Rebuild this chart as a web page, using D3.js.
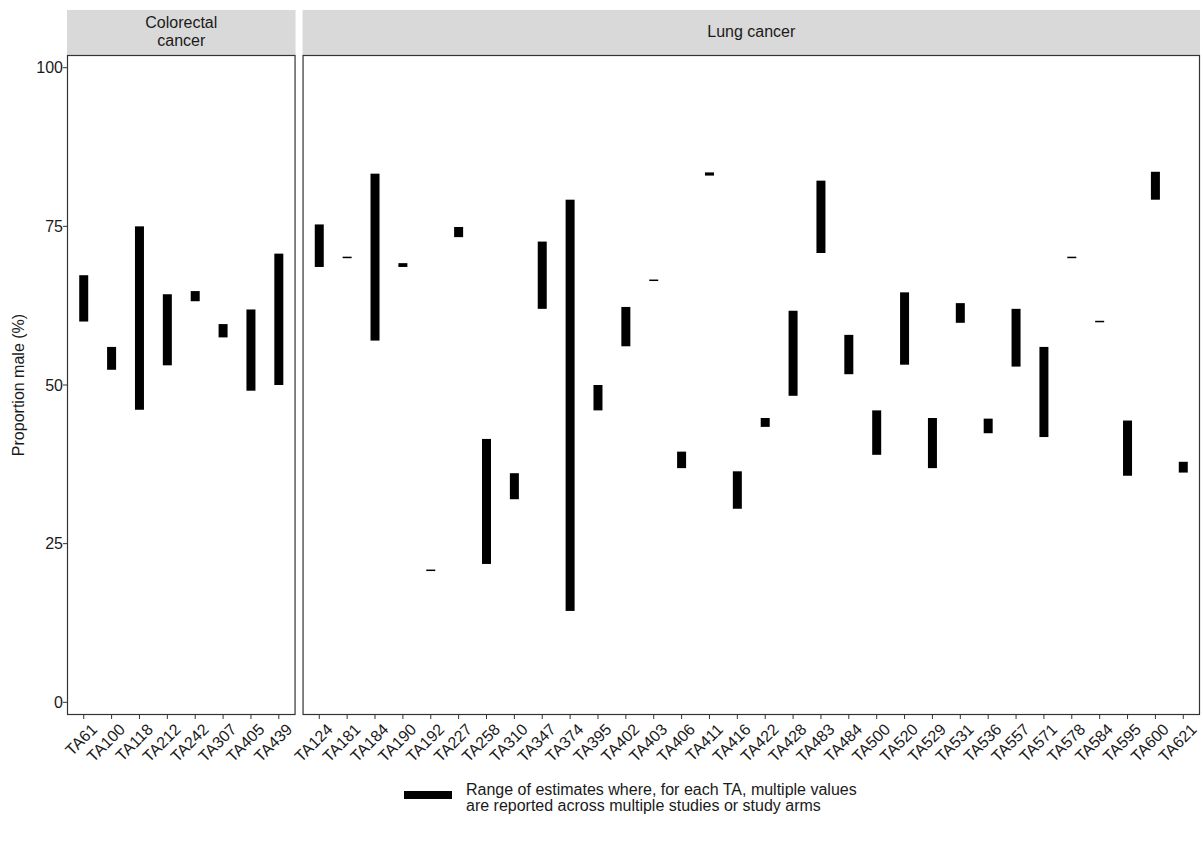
<!DOCTYPE html>
<html>
<head>
<meta charset="utf-8">
<script src="https://cdn.jsdelivr.net/npm/d3@7"></script>
<style>
  body { margin: 0; background: #fff; }
  text { font-family: "Liberation Sans", Arial, sans-serif; }
</style>
</head>
<body>
<script>
// colorectal panel
const crcTA = ["TA61", "TA100", "TA118", "TA212", "TA242", "TA307", "TA405", "TA439"];
const crcLow = [60.0, 52.4, 46.1, 53.1, 63.2, 57.5, 49.1, 50.0];
const crcHigh = [67.3, 56.0, 75.0, 64.3, 64.8, 59.6, 61.9, 70.7];

// lung panel
const lungTA = ["TA124", "TA181", "TA184", "TA190", "TA192", "TA227", "TA258", "TA310",
    "TA347", "TA374", "TA395", "TA402", "TA403", "TA406", "TA411", "TA416", "TA422",
    "TA428", "TA483", "TA484", "TA500", "TA520", "TA529", "TA531", "TA536", "TA557",
    "TA571", "TA578", "TA584", "TA595", "TA600", "TA621"];
const lungLow = [68.6, 70.1, 57.0, 68.6, 20.8, 73.3, 21.8, 32.0,
    62.0, 14.4, 46.0, 56.1, 66.5, 36.9, 83.0, 30.5, 43.4,
    48.3, 70.8, 51.7, 39.0, 53.2, 36.9, 59.8, 42.4, 52.9,
    41.8, 70.1, 60.0, 35.7, 79.2, 36.2];
const lungHigh = [75.3, 70.1, 83.3, 69.2, 20.8, 74.9, 41.5, 36.1,
    72.6, 79.2, 50.0, 62.3, 66.5, 39.5, 83.5, 36.4, 44.8,
    61.7, 82.2, 57.9, 46.0, 64.6, 44.8, 62.9, 44.7, 62.0,
    56.0, 70.1, 60.0, 44.4, 83.6, 37.9];

const yTicks = [0, 25, 50, 75, 100];

const width = 1203, height = 854;
const panelTop = 55, panelBottom = 715;
const stripTop = 10;
const leftX = 67, rightX = 1200, gap = 7;
const barW = 9;
const fs = "16px";

const svg = d3.select("body").append("svg")
    .attr("width", width)
    .attr("height", height);

const y = d3.scaleLinear().domain([-2, 102]).range([panelBottom, panelTop]);

const panels = [
    { name: ["Colorectal", "cancer"], cats: crcTA, lo: crcLow, hi: crcHigh },
    { name: ["Lung cancer"], cats: lungTA, lo: lungLow, hi: lungHigh }
];

// free x space, like facet space="free_x"
const units = panels.map(p => p.cats.length - 1 + 1.2);
const avail = rightX - leftX - gap;
let cursor = leftX;
panels.forEach((p, i) => {
    p.x0 = cursor;
    p.x1 = cursor + avail * units[i] / d3.sum(units);
    cursor = p.x1 + gap;
});

panels.forEach(p => {
    const x = d3.scalePoint().domain(p.cats).range([p.x0, p.x1]).padding(0.6);
    const g = svg.append("g");

    // strip
    g.append("rect")
        .attr("x", p.x0).attr("y", stripTop)
        .attr("width", p.x1 - p.x0).attr("height", panelTop - stripTop)
        .attr("fill", "#d9d9d9");
    const midY = (stripTop + panelTop) / 2 - 1;
    g.selectAll(".strip")
        .data(p.name)
        .enter()
        .append("text")
        .attr("x", (p.x0 + p.x1) / 2)
        .attr("y", (d, i) => midY + (i - (p.name.length - 1) / 2) * 18)
        .attr("dy", "0.35em")
        .attr("text-anchor", "middle")
        .style("font-size", fs)
        .style("fill", "#1a1a1a")
        .text(d => d);

    // ranges
    const rows = p.cats.map((c, i) => ({ c: c, lo: p.lo[i], hi: p.hi[i] }));
    g.selectAll(".bar")
        .data(rows)
        .enter()
        .append("rect")
        .attr("x", d => x(d.c) - barW / 2)
        .attr("width", barW)
        .attr("y", d => y(d.hi) - (d.hi === d.lo ? 0.75 : 0))
        .attr("height", d => Math.max(y(d.lo) - y(d.hi), 1.5))
        .attr("fill", "#000");

    // border
    g.append("rect")
        .attr("x", p.x0 + 0.5).attr("y", panelTop + 0.5)
        .attr("width", p.x1 - p.x0 - 1).attr("height", panelBottom - panelTop - 1)
        .attr("fill", "none")
        .attr("stroke", "#333")
        .attr("stroke-width", 1.2);

    // x axis
    const xa = g.append("g").attr("transform", `translate(0,${panelBottom})`);
    xa.selectAll("line")
        .data(p.cats)
        .enter()
        .append("line")
        .attr("x1", d => x(d)).attr("x2", d => x(d))
        .attr("y1", 0).attr("y2", 4)
        .attr("stroke", "#333");
    xa.selectAll("text")
        .data(p.cats)
        .enter()
        .append("text")
        .attr("transform", d => `translate(${x(d) + 6},${7}) rotate(-45)`)
        .attr("text-anchor", "end")
        .attr("dy", "0.75em")
        .style("font-size", fs)
        .style("fill", "#1a1a1a")
        .text(d => d);
});

// y axis
const ya = svg.append("g");
ya.selectAll("line")
    .data(yTicks)
    .enter()
    .append("line")
    .attr("x1", leftX - 4).attr("x2", leftX)
    .attr("y1", d => y(d)).attr("y2", d => y(d))
    .attr("stroke", "#333");
ya.selectAll("text")
    .data(yTicks)
    .enter()
    .append("text")
    .attr("x", leftX - 4)
    .attr("y", d => y(d))
    .attr("dy", "0.35em")
    .attr("text-anchor", "end")
    .style("font-size", fs)
    .style("fill", "#1a1a1a")
    .text(d => d);

svg.append("text")
    .attr("transform", `translate(24,${(panelTop + panelBottom) / 2}) rotate(-90)`)
    .attr("text-anchor", "middle")
    .style("font-size", fs)
    .style("fill", "#1a1a1a")
    .text("Proportion male (%)");

// legend
const lg = svg.append("g");
lg.append("rect")
    .attr("x", 404).attr("y", 791)
    .attr("width", 48).attr("height", 8)
    .attr("fill", "#000");
lg.selectAll("text")
    .data(["Range of estimates where, for each TA, multiple values",
           "are reported across multiple studies or study arms"])
    .enter()
    .append("text")
    .attr("x", 466)
    .attr("y", (d, i) => 789 + i * 16)
    .attr("dy", "0.35em")
    .style("font-size", fs)
    .style("fill", "#1a1a1a")
    .text(d => d);
</script>
</body>
</html>
